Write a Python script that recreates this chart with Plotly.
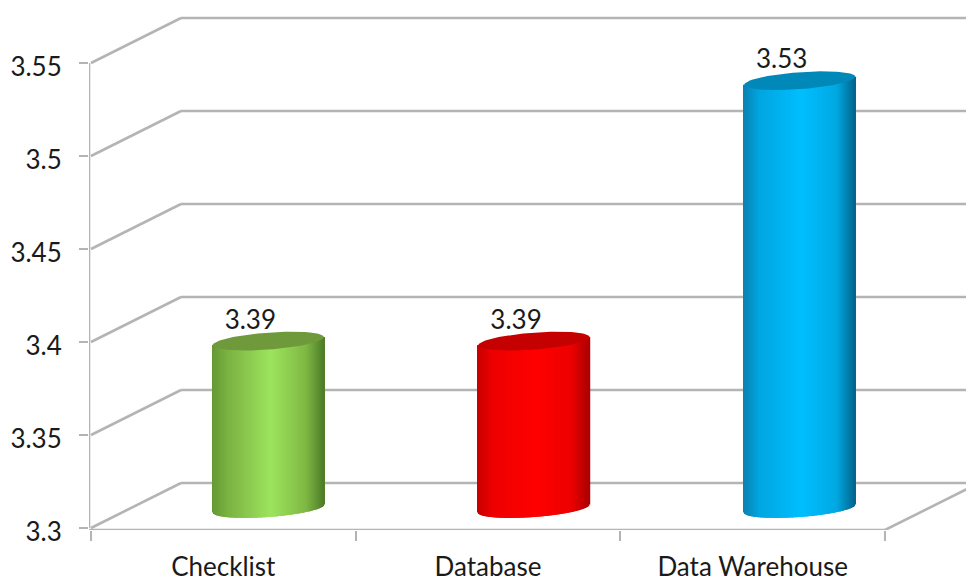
import numpy as np
import plotly.graph_objects as go

# Chart data
categories = ["Checklist", "Database", "Data Warehouse"]
values = [3.39, 3.39, 3.53]
value_ticks = [3.3, 3.35, 3.4, 3.45, 3.5, 3.55]
value_tick_labels = ["3.3", "3.35", "3.4", "3.45", "3.5", "3.55"]
category_edges = [-0.5, 0.5, 1.5, 2.5]

# Cylinder shading, left edge to right edge
stop_positions = [-1.0, -0.72, 0.05, 0.68, 1.0]
body_shades = [
    ["#659935", "#7cb342", "#9de45e", "#7fb944", "#4f7d28"],
    ["#c80000", "#ee0000", "#ff0000", "#ee0000", "#ae0000"],
    ["#0a82b2", "#00a6e0", "#00bfff", "#00a8e2", "#00668f"],
]
cap_colors = ["#6f9a3c", "#c40000", "#0088b8"]

# Pixel scale of the plot area
PX_X = 264.67
PX_Y = 1860.0
WIDTH, HEIGHT = 966, 581
LEFT, BOTTOM = 89, 51
X_RANGE = [-0.5 - 2 / PX_X, -0.5 - 2 / PX_X + (WIDTH - LEFT) / PX_X]
Y_FLOOR = 3.3 - 2 / PX_Y
Y_RANGE = [Y_FLOOR, Y_FLOOR + (HEIGHT - BOTTOM) / PX_Y]

# Oblique projection: shift of the back wall and of the bar centres
WALL_DX, WALL_DY = 90 / PX_X, 45 / PX_Y
BAR_DX, BAR_DY = 45 / PX_X, 19.5 / PX_Y
BAR_SPACING = 265.7 / PX_X
RADIUS_X = 55.5 / PX_X
RADIUS_Y = 8.5 / PX_Y
TILT = 4 / PX_Y
GRID = "#b4b4b4"


def hex_rgb(code):
    return np.array([int(code[i:i + 2], 16) for i in (1, 3, 5)], dtype=float)


def shade(t, colors):
    rgb = [np.interp(t, stop_positions, [hex_rgb(c)[k] for c in colors]) for k in range(3)]
    return "rgb(%d,%d,%d)" % tuple(rgb)


fig = go.Figure()

# Cylinders are built from thin vertical bars so the shading runs across the width
for i, (value, shades, cap) in enumerate(zip(values, body_shades, cap_colors)):
    cx = i * BAR_SPACING + BAR_DX
    t = np.linspace(-1, 1, 112)
    front = RADIUS_Y * np.sqrt(1 - t**2)
    bases = value_ticks[0] + BAR_DY + TILT * t - front
    tops = value + BAR_DY + TILT * t
    fig.add_trace(go.Bar(
        x=cx + t * RADIUS_X,
        y=tops - bases,
        base=bases,
        width=1.4 / PX_X,
        marker=dict(color=[shade(v, shades) for v in t], line=dict(width=0)),
        hoverinfo="skip",
        showlegend=False,
    ))
    angle = np.linspace(0, 2 * np.pi, 90)
    fig.add_trace(go.Scatter(
        x=cx + RADIUS_X * np.cos(angle),
        y=value + BAR_DY + TILT * np.cos(angle) + RADIUS_Y * np.sin(angle),
        mode="lines",
        line=dict(width=0),
        fill="toself",
        fillcolor=cap,
        hoverinfo="skip",
        showlegend=False,
    ))
    fig.add_trace(go.Scatter(
        x=[cx - 18 / PX_X],
        y=[value + BAR_DY + 19 / PX_Y],
        mode="text",
        text=[f"{value:.2f}"],
        textposition="middle center",
        textfont=dict(family="Lato", size=26, color="#1a1a1a"),
        hoverinfo="skip",
        showlegend=False,
    ))

# Wall and floor lines stay behind the traces
shapes = []
x_front, x_end = category_edges[0], X_RANGE[1] + 0.01


def segment(x0, y0, x1, y1, width=2.6):
    shapes.append(dict(type="line", layer="below", xref="x", yref="y",
                       x0=x0, y0=y0, x1=x1, y1=y1,
                       line=dict(color=GRID, width=width)))


for v in value_ticks:
    segment(x_front, v, x_front + WALL_DX, v + WALL_DY)
    segment(x_front + WALL_DX, v + WALL_DY, x_end, v + WALL_DY)

axis_x = X_RANGE[0]
segment(axis_x, value_ticks[0], axis_x, value_ticks[-1])
segment(axis_x, Y_FLOOR, category_edges[-1], Y_FLOOR)
segment(category_edges[-1], Y_FLOOR, x_end, Y_FLOOR + (x_end - category_edges[-1]) * WALL_DY / WALL_DX)

label_font = dict(family="Lato", size=26, color="#1a1a1a")

fig.update_layout(
    width=WIDTH,
    height=HEIGHT,
    margin=dict(l=LEFT, r=0, t=0, b=BOTTOM, pad=0),
    paper_bgcolor="white",
    plot_bgcolor="white",
    barmode="overlay",
    showlegend=False,
    shapes=shapes,
    xaxis=dict(
        range=X_RANGE,
        automargin=False,
        tickmode="array",
        tickvals=list(range(len(categories))),
        ticktext=categories,
        ticks="",
        ticklabelstandoff=19,
        tickfont=label_font,
        showgrid=False,
        zeroline=False,
        showline=False,
        minor=dict(tickmode="array", tickvals=category_edges, ticks="outside",
                   ticklen=10, tickwidth=2, tickcolor=GRID, showgrid=False),
    ),
    yaxis=dict(
        range=Y_RANGE,
        automargin=False,
        tickmode="array",
        tickvals=value_ticks,
        ticktext=value_tick_labels,
        ticks="outside",
        ticklen=9,
        tickwidth=2,
        tickcolor=GRID,
        ticklabelstandoff=12,
        ticklabelshift=4,
        tickfont=label_font,
        showgrid=False,
        zeroline=False,
        showline=False,
    ),
)

fig.write_html("out.html", config=dict(displayModeBar=False))
